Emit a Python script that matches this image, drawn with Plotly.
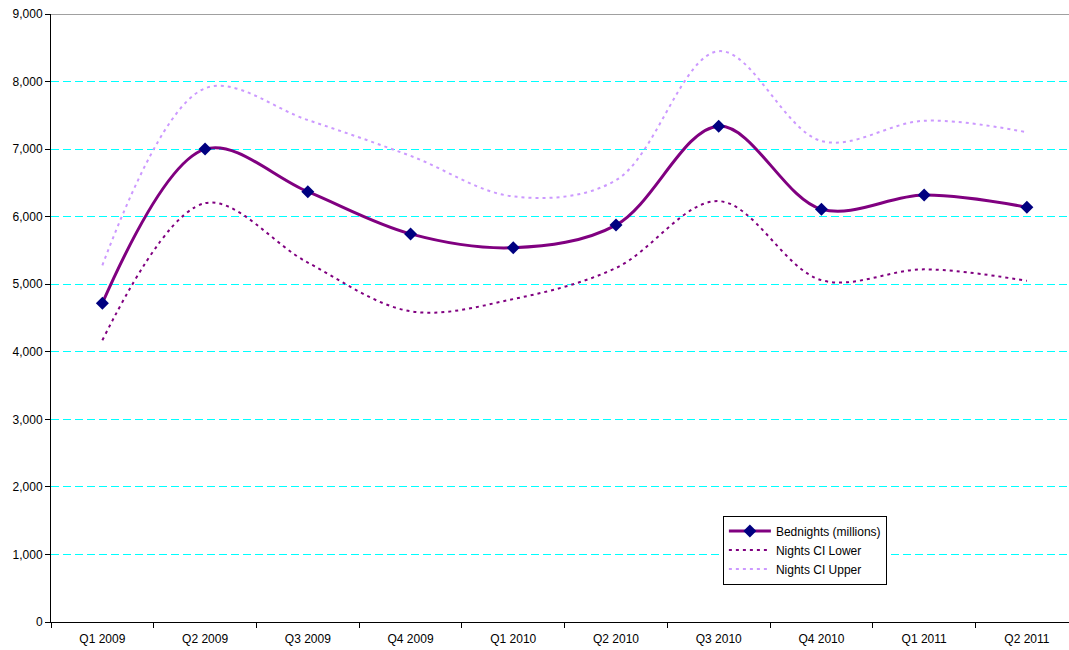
import plotly.graph_objects as go

quarters = ["Q1 2009", "Q2 2009", "Q3 2009", "Q4 2009", "Q1 2010",
            "Q2 2010", "Q3 2010", "Q4 2010", "Q1 2011", "Q2 2011"]
bednights = [4720, 7000, 6370, 5745, 5540, 5875, 7340, 6110, 6320, 6140]
ci_lower = [4170, 6200, 5320, 4600, 4780, 5240, 6230, 5060, 5220, 5050]
ci_upper = [5280, 7900, 7430, 6900, 6300, 6540, 8450, 7120, 7420, 7250]

fig = go.Figure()
fig.add_trace(go.Scatter(
    x=quarters, y=bednights, name="Bednights (millions)",
    mode="lines+markers", line=dict(color="#800080", width=3, shape="spline"),
    marker=dict(symbol="diamond", size=10, color="#000080"),
))
fig.add_trace(go.Scatter(
    x=quarters, y=ci_lower, name="Nights CI Lower",
    mode="lines", line=dict(color="#800080", width=2, dash="3px,4px", shape="spline"),
))
fig.add_trace(go.Scatter(
    x=quarters, y=ci_upper, name="Nights CI Upper",
    mode="lines", line=dict(color="#CC99FF", width=2, dash="3px,4px", shape="spline"),
))

fig.update_layout(
    width=1069, height=650,
    margin=dict(l=51, r=0, t=14, b=28),
    paper_bgcolor="white", plot_bgcolor="white",
    font=dict(family="Liberation Sans, Arial, sans-serif", size=12, color="black"),
    legend=dict(
        x=0.66, y=0.175, xanchor="left", yanchor="top",
        bgcolor="white", bordercolor="black", borderwidth=1,
        font=dict(size=12), tracegroupgap=0, itemwidth=42,
    ),
    xaxis=dict(
        type="category", range=[-0.5, 9.41],
        showline=True, linecolor="black", linewidth=1,
        ticks="outside", tickson="boundaries", ticklen=5, tickcolor="black",
        ticklabelstandoff=6,
        showgrid=False, zeroline=False,
    ),
    yaxis=dict(
        range=[0, 9000], tickvals=list(range(0, 9001, 1000)),
        tickformat=",d",
        showline=True, linecolor="black", linewidth=1,
        ticks="outside", ticklen=5, tickcolor="black",
        showgrid=True, gridcolor="#00FFFF", griddash="8px,4px", gridwidth=1,
        zeroline=False,
    ),
)
fig.add_shape(type="line", xref="paper", yref="y", x0=0, x1=1, y0=9000, y1=9000,
              line=dict(color="#808080", width=1.5))

fig.write_html("out.html")
